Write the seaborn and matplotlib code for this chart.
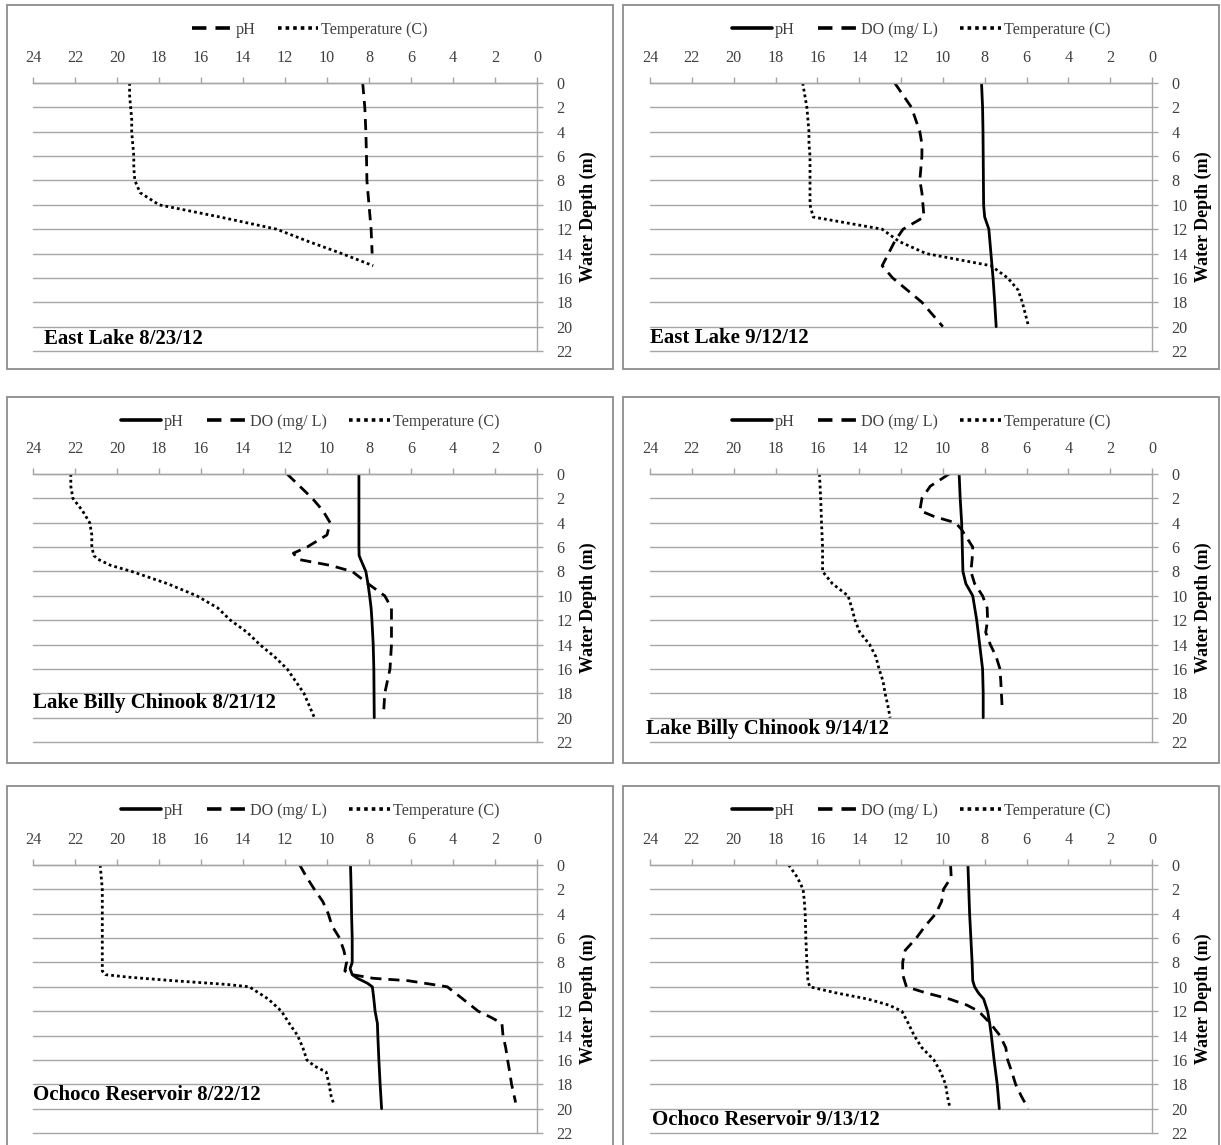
import matplotlib
matplotlib.use("Agg")
import matplotlib.pyplot as plt
import seaborn as sns
from matplotlib.lines import Line2D
from matplotlib.patches import Rectangle

# ---------------- data ----------------
# Panel 1: East Lake 8/23/12
el1_ph_depth = [0, 2, 4, 6, 8, 10, 12, 14]
el1_ph = [8.3, 8.2, 8.15, 8.12, 8.1, 8.0, 7.9, 7.85]
el1_temp_depth = [0, 1, 2, 3, 4, 5, 6, 7, 8, 9, 10, 11, 12, 13, 14, 15]
el1_temp = [19.4, 19.4, 19.35, 19.3, 19.3, 19.25, 19.2, 19.2, 19.15, 18.9, 18.0, 15.1, 12.4, 10.9, 9.3, 7.8]

# Panel 2: East Lake 9/12/12
el2_ph_depth = [0, 2, 4, 6, 8, 10, 11, 12, 14, 16, 18, 20]
el2_ph = [8.15, 8.1, 8.08, 8.07, 8.06, 8.05, 8.0, 7.8, 7.7, 7.6, 7.52, 7.45]
el2_do_depth = [0, 1, 2, 3, 4, 5, 6, 7, 8, 9, 10, 11, 12, 13, 14, 15, 16, 17, 18, 19, 20]
el2_do = [12.3, 11.9, 11.5, 11.3, 11.1, 11.0, 11.0, 11.05, 11.1, 11.0, 10.95, 10.9, 11.9, 12.3, 12.6, 12.9, 12.4, 11.7, 11.0, 10.5, 10.0]
el2_temp_depth = [0, 1, 2, 3, 4, 5, 6, 7, 8, 9, 10, 11, 12, 13, 14, 15, 16, 17, 18, 19, 20]
el2_temp = [16.7, 16.6, 16.5, 16.45, 16.4, 16.4, 16.35, 16.35, 16.35, 16.35, 16.35, 16.2, 12.9, 12.1, 10.8, 7.7, 6.9, 6.4, 6.2, 6.05, 5.9]

# Panel 3: Lake Billy Chinook 8/21/12
lb1_ph_depth = [0, 2, 4, 6, 6.7, 7, 8, 9, 10, 11, 12, 14, 16, 18, 20]
lb1_ph = [8.48, 8.48, 8.48, 8.48, 8.47, 8.4, 8.15, 8.05, 7.97, 7.9, 7.86, 7.8, 7.77, 7.76, 7.75]
lb1_do_depth = [0, 1, 2, 3, 4, 5, 6, 6.5, 7, 7.5, 8, 9, 10, 11, 12, 14, 16, 18, 19.5]
lb1_do = [11.9, 11.3, 10.7, 10.2, 9.85, 10.0, 10.95, 11.6, 11.4, 9.85, 8.8, 8.05, 7.25, 6.93, 6.93, 6.93, 7.0, 7.25, 7.3]
lb1_temp_depth = [0, 1, 2, 3, 4, 5, 6, 6.7, 7, 7.5, 8, 9, 10, 11, 12, 13, 14, 15, 16, 17, 18, 19, 20]
lb1_temp = [22.2, 22.2, 22.1, 21.65, 21.3, 21.2, 21.2, 21.1, 20.9, 20.3, 19.3, 17.6, 16.2, 15.2, 14.6, 13.8, 13.2, 12.5, 11.9, 11.5, 11.1, 10.85, 10.6]

# Panel 4: Lake Billy Chinook 9/14/12
lb2_ph_depth = [0, 2, 4, 6, 8, 9, 10, 12, 14, 16, 18, 20]
lb2_ph = [9.22, 9.17, 9.1, 9.07, 9.04, 8.9, 8.57, 8.38, 8.24, 8.1, 8.07, 8.07]
lb2_do_depth = [0, 0.5, 1, 2, 3, 3.5, 4, 4.5, 5, 6, 7, 8, 9, 10, 11, 12, 13, 14, 15, 16, 17, 18, 19]
lb2_do = [9.7, 10.15, 10.6, 11.0, 11.1, 10.4, 9.4, 9.13, 8.94, 8.57, 8.6, 8.66, 8.48, 8.1, 7.88, 7.86, 7.95, 7.73, 7.45, 7.27, 7.23, 7.2, 7.17]
lb2_temp_depth = [0, 2, 4, 6, 8, 9, 10, 11, 12, 13, 14, 15, 16, 17, 18, 19, 20]
lb2_temp = [15.9, 15.84, 15.8, 15.75, 15.75, 15.28, 14.53, 14.35, 14.2, 13.97, 13.5, 13.2, 13.05, 12.86, 12.76, 12.63, 12.52]

# Panel 5: Ochoco Reservoir 8/22/12
oc1_ph_depth = [0, 2, 4, 6, 8, 8.5, 9, 9.3, 9.7, 10, 11, 12, 13, 14, 16, 18, 20]
oc1_ph = [8.88, 8.85, 8.83, 8.8, 8.8, 8.9, 8.8, 8.55, 8.08, 7.84, 7.77, 7.71, 7.6, 7.58, 7.53, 7.47, 7.4]
oc1_do_depth = [0, 1, 2, 3, 4, 5, 6, 7, 8, 8.7, 9, 9.3, 9.5, 9.8, 10, 11, 12, 12.5, 13, 14, 15, 16, 17, 18, 19, 19.5]
oc1_do = [11.3, 10.97, 10.6, 10.2, 9.94, 9.76, 9.4, 9.2, 9.07, 9.15, 8.8, 7.8, 6.13, 5.0, 4.27, 3.53, 2.8, 2.2, 1.67, 1.62, 1.49, 1.4, 1.3, 1.21, 1.08, 1.02]
oc1_temp_depth = [0, 2, 4, 6, 8, 8.7, 9, 9.2, 9.5, 9.8, 10, 11, 12, 13, 14, 15, 16, 16.5, 17, 18, 19, 19.5]
oc1_temp = [20.8, 20.7, 20.7, 20.7, 20.7, 20.7, 20.55, 19.5, 17.3, 14.8, 13.7, 12.8, 12.17, 11.8, 11.4, 11.15, 10.96, 10.6, 10.04, 9.9, 9.8, 9.7]

# Panel 6: Ochoco Reservoir 9/13/12
oc2_ph_depth = [0, 2, 4, 6, 8, 9.5, 10, 10.5, 11, 12, 13, 14, 16, 18, 20]
oc2_ph = [8.8, 8.76, 8.72, 8.66, 8.6, 8.57, 8.48, 8.3, 8.05, 7.86, 7.76, 7.68, 7.55, 7.4, 7.3]
oc2_do_depth = [0, 1, 2, 3, 4, 5, 6, 7, 8, 9, 10, 10.5, 11, 11.5, 12, 13, 14, 15, 16, 17, 18, 19, 20]
oc2_do = [9.63, 9.6, 9.97, 10.06, 10.34, 10.84, 11.27, 11.8, 11.92, 11.92, 11.74, 10.8, 9.69, 8.85, 8.29, 7.73, 7.27, 6.99, 6.9, 6.7, 6.52, 6.24, 5.92]
oc2_temp_depth = [0, 1, 2, 3, 4, 6, 8, 9.5, 10, 10.5, 11, 11.5, 12, 13, 14, 15, 16, 17, 18, 19, 20]
oc2_temp = [17.37, 16.96, 16.68, 16.62, 16.58, 16.55, 16.5, 16.45, 16.36, 15.1, 13.6, 12.58, 11.96, 11.65, 11.37, 11.0, 10.43, 10.1, 9.87, 9.78, 9.65]

titles = ["East Lake 8/23/12", "East Lake 9/12/12",
          "Lake Billy Chinook 8/21/12", "Lake Billy Chinook 9/14/12",
          "Ochoco Reservoir 8/22/12", "Ochoco Reservoir 9/13/12"]
x_ticks = [24, 22, 20, 18, 16, 14, 12, 10, 8, 6, 4, 2, 0]
y_ticks = [0, 2, 4, 6, 8, 10, 12, 14, 16, 18, 20, 22]

# ---------------- style ----------------
sns.set_theme(style="white")
plt.rcParams['font.family'] = ['Liberation Serif', 'DejaVu Serif']

W, H = 1221, 1145
fig = plt.figure(figsize=(W / 100, H / 100), dpi=100)
fig.patch.set_facecolor("white")

SOLID = dict(linestyle="-")
DASH = dict(linestyle=(0, (4, 2.5)))
DOT = dict(linestyle=(0, (1, 1.1)))
LW = 2.0
GRID = "#a6a6a6"
TXT = "#404040"
FS = 11.6

col_x = [(33, 537), (650, 1152)]
row_y = [83, 474, 865]
AX_H = 268
frame_x = [(7, 613), (623, 1219)]
frame_y = [(5, 369), (397, 763), (786, 1160)]

panels = [
    ([("pH", el1_ph, el1_ph_depth, DASH), ("Temperature (C)", el1_temp, el1_temp_depth, DOT)], (23.5, 21.0)),
    ([("pH", el2_ph, el2_ph_depth, SOLID), ("DO (mg/ L)", el2_do, el2_do_depth, DASH),
      ("Temperature (C)", el2_temp, el2_temp_depth, DOT)], (24.0, 20.9)),
    ([("pH", lb1_ph, lb1_ph_depth, SOLID), ("DO (mg/ L)", lb1_do, lb1_do_depth, DASH),
      ("Temperature (C)", lb1_temp, lb1_temp_depth, DOT)], (24.0, 18.8)),
    ([("pH", lb2_ph, lb2_ph_depth, SOLID), ("DO (mg/ L)", lb2_do, lb2_do_depth, DASH),
      ("Temperature (C)", lb2_temp, lb2_temp_depth, DOT)], (24.2, 20.9)),
    ([("pH", oc1_ph, oc1_ph_depth, SOLID), ("DO (mg/ L)", oc1_do, oc1_do_depth, DASH),
      ("Temperature (C)", oc1_temp, oc1_temp_depth, DOT)], (24.0, 18.9)),
    ([("pH", oc2_ph, oc2_ph_depth, SOLID), ("DO (mg/ L)", oc2_do, oc2_do_depth, DASH),
      ("Temperature (C)", oc2_temp, oc2_temp_depth, DOT)], (23.9, 20.9)),
]

for i, (series, (tx, ty)) in enumerate(panels):
    r, c = divmod(i, 2)
    # frame
    fx0, fx1 = frame_x[c]
    fy0, fy1 = frame_y[r]
    fig.patches.append(Rectangle((fx0 / W, 1 - fy1 / H), (fx1 - fx0) / W, (fy1 - fy0) / H,
                                 transform=fig.transFigure, fill=False,
                                 edgecolor="#8c8c8c", lw=1.3, zorder=0))
    x0, x1 = col_x[c]
    y0 = row_y[r]
    ax = fig.add_axes([x0 / W, 1 - (y0 + AX_H) / H, (x1 - x0) / W, AX_H / H])
    ax.set_facecolor("none")

    handles = []
    for name, vals, depth, ls in series:
        sns.lineplot(x=vals, y=depth, sort=False, estimator=None, ax=ax,
                     color="black", lw=LW, legend=False)
        ln = ax.lines[-1]
        ln.set_linestyle(ls["linestyle"])
        ln.set_solid_joinstyle("round")
        handles.append(Line2D([], [], color="black", lw=LW + 0.6, linestyle=ls["linestyle"], label=name))

    ax.set_xlim(24, 0)
    ax.set_ylim(22, 0)
    ax.set_xticks(x_ticks)
    ax.set_yticks(y_ticks)
    ax.xaxis.tick_top()
    ax.yaxis.tick_right()
    ax.yaxis.set_label_position("right")
    ax.set_xlabel("")
    ax.set_ylabel("Water Depth (m)", fontsize=13, fontweight="bold", color="black", labelpad=5)
    ax.tick_params(axis="x", which="major", top=True, bottom=False, length=4, width=1,
                   color=GRID, pad=8, labelsize=FS, labelcolor=TXT)
    ax.tick_params(axis="y", which="major", right=True, left=False, length=4, width=1,
                   color=GRID, pad=10, labelsize=FS, labelcolor=TXT)
    ax.yaxis.grid(True, color=GRID, lw=1.0)
    ax.xaxis.grid(False)
    ax.set_axisbelow(True)
    for gl in ax.get_ygridlines():
        gl.set_clip_on(False)
    for side in ("left", "bottom"):
        ax.spines[side].set_visible(False)
    for side in ("top", "right"):
        ax.spines[side].set_visible(True)
        ax.spines[side].set_color(GRID)
        ax.spines[side].set_linewidth(1.0)

    ax.text(tx, ty, titles[i], fontsize=15, fontweight="bold", color="black",
            ha="left", va="center")

    # legend centred on the frame
    lcx = (fx0 + fx1) / 2 / W
    lcy = 1 - (fy0 + 25) / H
    fig.legend(handles=handles, loc="center", bbox_to_anchor=(lcx, lcy), ncol=len(handles),
               frameon=False, fontsize=FS, handlelength=2.5, handletextpad=0.2,
               columnspacing=1.4, labelcolor=TXT)

fig.savefig("out.png", dpi=100, facecolor="white")
